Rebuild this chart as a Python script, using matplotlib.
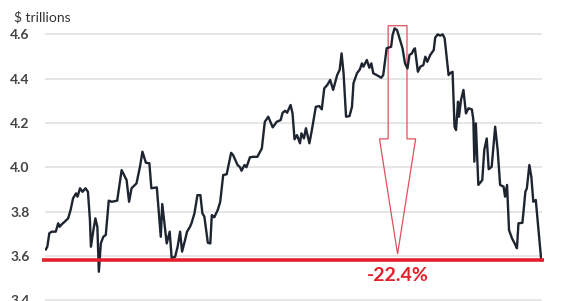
#!/usr/bin/env python3
"""Total value line chart with peak-to-trough drawdown arrow."""

import matplotlib
matplotlib.use("Agg")
import matplotlib.pyplot as plt
from matplotlib.patches import FancyArrow

# ── data ──────────────────────────────────────────────────────────────────────
t = [0, 0.3, 0.7, 1.2, 2.0, 2.5, 2.8, 3.2, 3.8, 4.5, 5.0, 5.5, 6.1, 6.4, 6.9,
     7.4, 8.0, 8.5, 8.9, 9.1, 9.6, 10.0, 10.4, 10.7, 11.1, 11.6, 12.1, 12.7,
     13.3, 14.4, 15.3, 16.3, 16.8, 17.3, 18.3, 19.0, 19.5, 20.2, 20.9, 21.3,
     22.4, 23.2, 23.5, 24.4, 25.0, 25.4, 26.1, 26.6, 27.1, 27.5, 28.1, 28.5,
     29.1, 29.4, 30.0, 30.6, 31.2, 31.6, 32.0, 32.7, 33.2, 33.5, 34.0, 34.7,
     35.2, 35.8, 36.5, 37.4, 37.8, 38.7, 39.2, 39.5, 40.1, 40.5, 41.2, 41.9,
     42.7, 43.6, 44.2, 44.9, 45.8, 46.6, 47.4, 47.8, 48.3, 48.7, 49.4, 49.8,
     50.2, 50.7, 51.3, 51.6, 52.1, 52.5, 53.2, 53.7, 54.5, 55.2, 55.7, 56.2,
     56.8, 57.4, 58.0, 58.8, 59.3, 59.7, 60.1, 60.6, 61.3, 61.8, 62.1, 62.8,
     63.4, 63.8, 64.1, 64.8, 65.3, 65.7, 66.1, 66.8, 67.7, 68.1, 68.8, 69.7,
     70.0, 70.4, 70.9, 71.3, 72.0, 72.5, 73.0, 73.4, 73.9, 74.2, 74.5, 75.1,
     75.6, 76.2, 76.6, 77.0, 77.6, 78.3, 78.6, 79.1, 79.6, 80.1, 80.5, 81.3,
     81.6, 82.1, 82.5, 82.8, 83.2, 83.4, 83.8, 84.3, 84.8, 85.3, 86.0, 86.3,
     86.5, 86.8, 87.3, 88.1, 88.5, 89.0, 89.4, 90.0, 90.7, 91.2, 91.7, 92.4,
     92.7, 93.1, 93.5, 94.1, 94.7, 95.1, 95.4, 96.2, 96.8, 97.1, 97.6, 98.0,
     98.4, 98.9, 100.0]
value = [3.629, 3.641, 3.702, 3.709, 3.709, 3.747, 3.731, 3.742, 3.754, 3.769,
         3.807, 3.860, 3.882, 3.867, 3.905, 3.889, 3.905, 3.889, 3.762, 3.641,
         3.716, 3.769, 3.731, 3.528, 3.656, 3.686, 3.694, 3.849, 3.844, 3.849,
         3.987, 3.942, 3.844, 3.905, 3.927, 4.002, 4.070, 4.020, 4.018, 3.905,
         3.909, 3.686, 3.834, 3.656, 3.709, 3.589, 3.596, 3.641, 3.709, 3.619,
         3.671, 3.709, 3.731, 3.747, 3.792, 3.874, 3.874, 3.792, 3.777, 3.659,
         3.656, 3.784, 3.774, 3.807, 3.844, 3.965, 3.968, 4.065, 4.055, 4.010,
         4.000, 3.984, 4.010, 4.000, 4.045, 4.047, 4.047, 4.085, 4.205, 4.228,
         4.180, 4.205, 4.213, 4.246, 4.255, 4.246, 4.281, 4.243, 4.126, 4.145,
         4.108, 4.153, 4.130, 4.176, 4.108, 4.168, 4.273, 4.276, 4.261, 4.356,
         4.371, 4.394, 4.349, 4.416, 4.439, 4.514, 4.424, 4.228, 4.231, 4.273,
         4.379, 4.424, 4.442, 4.469, 4.454, 4.484, 4.449, 4.469, 4.424, 4.416,
         4.404, 4.416, 4.537, 4.544, 4.597, 4.627, 4.619, 4.589, 4.537, 4.469,
         4.446, 4.507, 4.514, 4.529, 4.537, 4.431, 4.454, 4.461, 4.499, 4.476,
         4.507, 4.529, 4.585, 4.600, 4.594, 4.600, 4.582, 4.416, 4.424, 4.431,
         4.183, 4.168, 4.296, 4.228, 4.303, 4.349, 4.243, 4.266, 4.261, 4.213,
         4.025, 4.198, 3.920, 3.942, 4.078, 4.130, 3.991, 4.002, 4.183, 4.078,
         3.920, 3.912, 3.867, 3.920, 3.716, 3.679, 3.653, 3.634, 3.747, 3.749,
         3.889, 3.905, 4.010, 3.957, 3.844, 3.852, 3.580]

y_ticks = [3.4, 3.6, 3.8, 4.0, 4.2, 4.4, 4.6]
y_tick_labels = ["3.4", "3.6", "3.8", "4.0", "4.2", "4.4", "4.6"]
unit_label = "$ trillions"
drop_label = "-22.4%"

# ── colours ───────────────────────────────────────────────────────────────────
C_LINE = "#1e2530"
C_RED = "#e3202c"
C_ARROW = "#e0505e"
C_GRID = "#e2e2e2"
C_TEXT = "#444444"

plt.rcParams["font.family"] = ["Lato", "DejaVu Sans"]

fig = plt.figure(figsize=(5.75, 3.01), dpi=100)
ax = fig.add_axes([0.078, 0.0, 0.865, 1.0])

# gridlines / axes
ax.set_xlim(-0.2, 100.2)
ax.set_ylim(3.396, 4.755)
ax.set_yticks(y_ticks)
ax.set_yticklabels(y_tick_labels, fontsize=10, fontweight="bold", color=C_TEXT)
ax.set_xticks([])
ax.tick_params(axis="y", length=0, pad=11)
ax.grid(True, axis="y", color=C_GRID, lw=1.2)
ax.set_axisbelow(True)
for s in ax.spines.values():
    s.set_visible(False)

# drawdown arrow from peak to trough
peak_i = value.index(max(value))
trough = value[-1]
peak = value[peak_i]
x_arrow = t[peak_i] + 0.6
top = peak + 0.012
tip = trough + 0.028
arrow = FancyArrow(x_arrow, top, 0, tip - top, width=3.8, head_width=7.3,
                   head_length=0.52, length_includes_head=True,
                   fc="none", ec=C_ARROW, lw=0.9, zorder=2)
ax.add_patch(arrow)

# series
ax.plot(t, value, color=C_LINE, lw=1.7, zorder=3)

# trough level line
ax.hlines(trough, t[0] - 0.8, t[-1] + 0.6, color=C_RED, lw=2.6,
          zorder=4, clip_on=False)

ax.text(x_arrow, trough - 0.03, drop_label, color=C_RED, fontsize=14,
        fontweight="bold", ha="center", va="top")

fig.text(14 / 575, 1 - 17 / 301, unit_label, fontsize=10, color="#333333",
         ha="left", va="center")

fig.savefig("out.png", dpi=100)
